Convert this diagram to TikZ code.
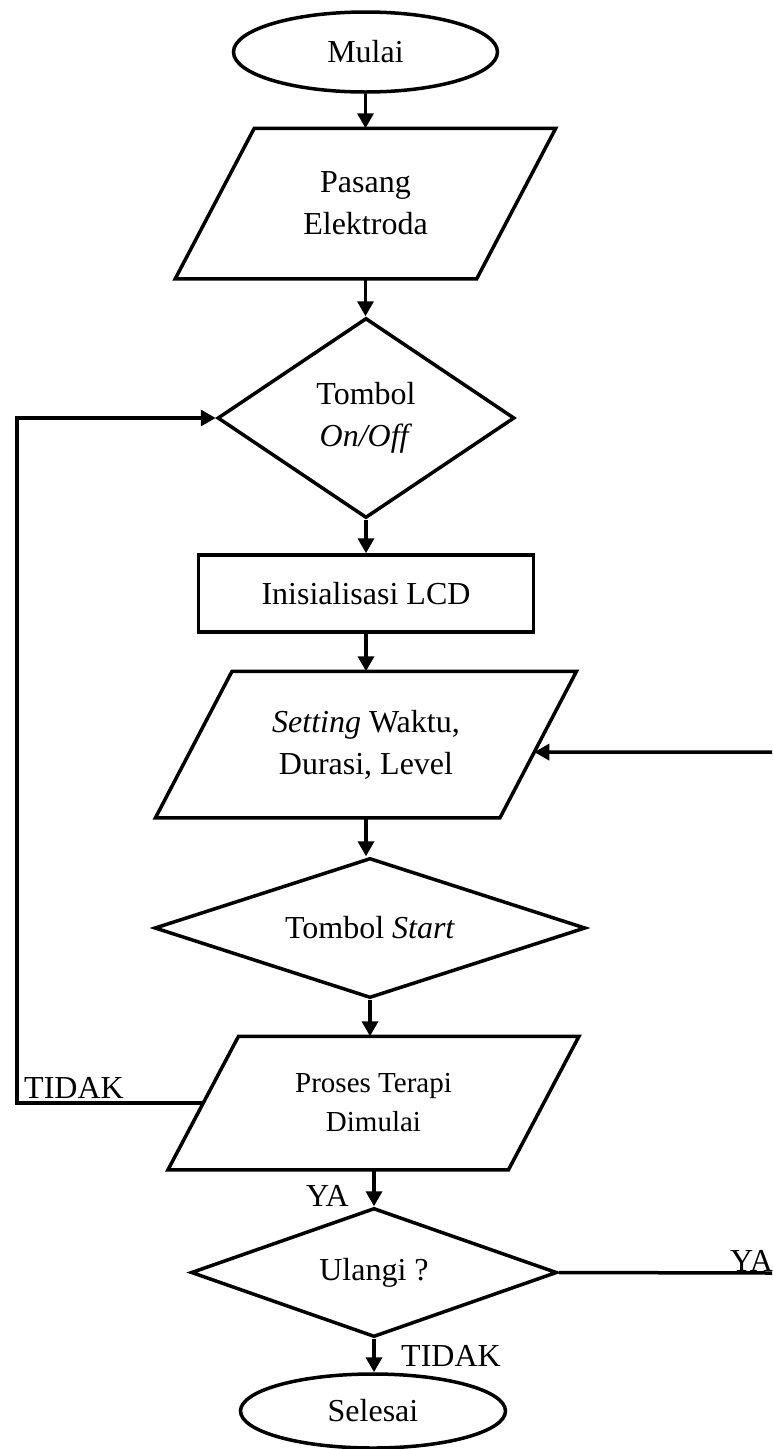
\documentclass[tikz,border=0pt]{standalone}
\usepackage{fontspec}
\setmainfont{Liberation Serif}
\usetikzlibrary{shapes.geometric,arrows.meta,calc}
\tikzset{
  base/.style={line width=3.5pt, font=\fontsize{32}{42}\selectfont, inner sep=0pt, align=center},
  term/.style={base, draw, ellipse},
  proc/.style={base, draw, rectangle},
  dec/.style={base, draw, diamond},
  io/.style={base},
  lbl/.style={font=\fontsize{32}{42}\selectfont, inner sep=0pt},
  arr/.style={line width=3.5pt, -{Triangle[length=15pt,width=16pt]}},
  ln/.style={line width=3.5pt}
}
\begin{document}
\begin{tikzpicture}[x=1pt,y=-1pt]
\useasboundingbox (0,0) rectangle (772,1449);
% nodes
\node[term, minimum width=264, minimum height=80] (mulai) at (365.5,52) {Mulai};
\node[io, minimum width=298, minimum height=147] (pas) at (365.5,203.5) {Pasang\\Elektroda};
\draw[ln] ([xshift=39.5]pas.north west) -- ([xshift=39.5]pas.north east) -- ([xshift=-39.5]pas.south east) -- ([xshift=-39.5]pas.south west) -- cycle;
\node[dec, shape aspect=1.485, minimum width=297, minimum height=200] (d1) at (366,418) {Tombol\\\textit{On/Off}};
\node[proc, minimum width=335, minimum height=77] (lcd) at (366,593.5) {Inisialisasi LCD};
\node[io, minimum width=341, minimum height=143] (set) at (366,744.5) {\textit{Setting} Waktu,\\Durasi, Level};
\draw[ln] ([xshift=38.25]set.north west) -- ([xshift=38.25]set.north east) -- ([xshift=-38.25]set.south east) -- ([xshift=-38.25]set.south west) -- cycle;
\node[dec, shape aspect=3.08, minimum width=431, minimum height=140] (start) at (370,928) {Tombol \textit{Start}};
\node[io, minimum width=337, minimum height=130, font=\fontsize{29}{39}\selectfont] (pro) at (373.5,1103) {Proses Terapi\\Dimulai};
\draw[ln] ([xshift=35.25]pro.north west) -- ([xshift=35.25]pro.north east) -- ([xshift=-35.25]pro.south east) -- ([xshift=-35.25]pro.south west) -- cycle;
\node[dec, shape aspect=2.84, minimum width=366, minimum height=129] (ul) at (374,1272.5) {Ulangi ?};
\node[term, minimum width=265, minimum height=74] (sel) at (373,1411) {Selesai};
% labels
\node[lbl, anchor=base west] (tidak1) at (24,1098) {TIDAK};
\node[lbl, anchor=base east] (ya1) at (349,1206) {YA};
\node[lbl, anchor=base west] (ya2) at (730,1271) {YA};
\node[lbl, anchor=base west] (tidak2) at (401,1366) {TIDAK};
% coordinates
\coordinate (lb) at (17,1103);
\coordinate (ra) at (772,1273);
\coordinate (rin) at (772,752);
\coordinate (setin) at ($([xshift=38.25]set.north east)!0.552!([xshift=-38.25]set.south east)$);
% connectors
\draw[arr] (mulai.south) -- (mulai.south |- pas.north);
\draw[arr] (pas.south) -- (pas.south |- d1.north);
\draw[arr] (d1.south) -- (d1.south |- lcd.north);
\draw[arr] (lcd.south) -- (lcd.south |- set.north);
\draw[arr] (set.south) -- (set.south |- start.north);
\draw[arr] (start.south) -- (start.south |- pro.north);
\draw[arr] (ul.north |- pro.south) -- (ul.north);
\draw[arr] (ul.south) -- (ul.south |- sel.north);
\draw[arr] (pro.west) -- (lb) |- (d1.west);
\draw[arr] (rin) -- (setin);
\draw[ln] (ul.east) -- (ra);
\end{tikzpicture}
\end{document}
